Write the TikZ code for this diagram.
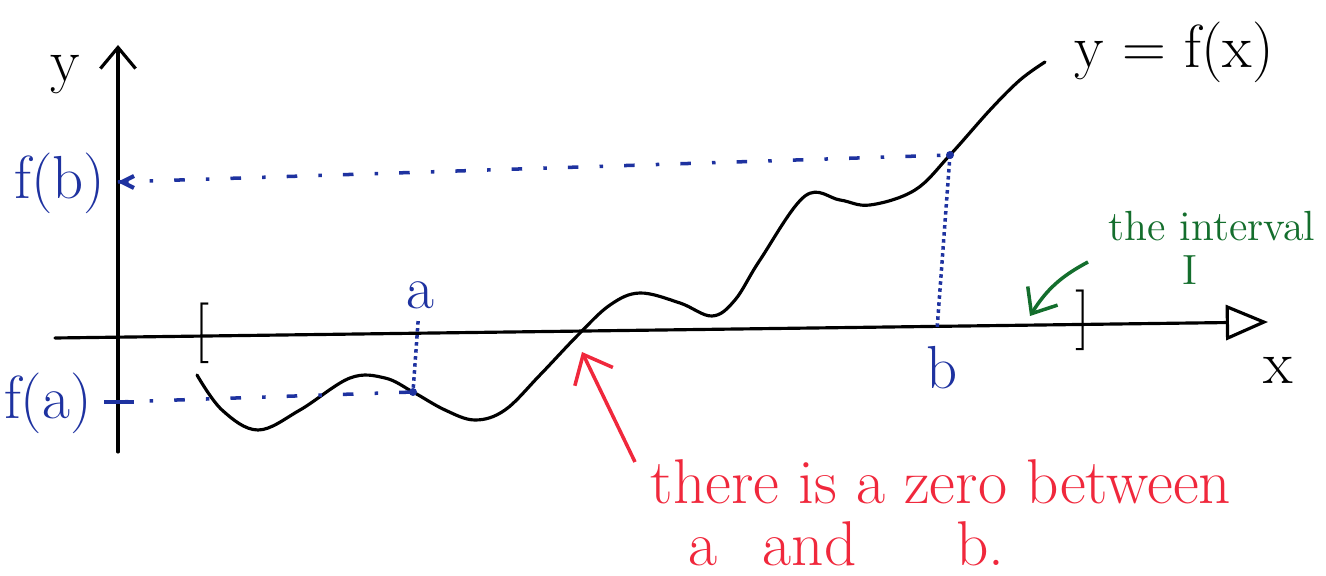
\documentclass[tikz,border=0pt]{standalone}
\usepackage{xcolor}
\usepackage{tikz}
\usetikzlibrary{arrows.meta}
\definecolor{penblue}{RGB}{30,50,160}
\definecolor{penred}{RGB}{240,40,60}
\definecolor{pengreen}{RGB}{20,110,45}

\begin{document}
\begin{tikzpicture}[x=0.01cm,y=-0.01cm,
    pen/.style={line width=0.9pt,line cap=round},
    guide/.style={penblue,line width=1pt,dash pattern=on 3pt off 6pt on 1pt off 6pt},
    drop/.style={penblue,line width=1pt,densely dotted},
    bluetext/.style={penblue,font=\LARGE},
    redtext/.style={penred,font=\fontsize{18}{22}\selectfont,anchor=west,inner sep=0pt},
    greentext/.style={pengreen,font=\large}
]

\useasboundingbox (0,0) rectangle (1326,576);

\coordinate (xs) at (55,338);
\coordinate (xe) at (1268,322);
\coordinate (ys) at (118,452);
\coordinate (ye) at (118,45);
\coordinate (fa) at (413,392);
\coordinate (fb) at (950,155);
\coordinate (fbtick) at (118,182);
\coordinate (fatick) at (118,402);
\coordinate (bfoot) at (937,330);

\draw[pen,-{Triangle[open,length=12pt,width=10pt]}] (xs) -- (xe);
\draw[pen,-{Straight Barb[length=6pt,width=10pt]}] (ys) -- (ye);

\node[font=\LARGE] (ylabel) at (65,75) {y};
\node[font=\LARGE] (xlabel) at (1278,370) {x};
\node[font=\LARGE] (lbrack) at (202,333) {[};
\node[font=\LARGE] (rbrack) at (1083,320) {]};

\draw[pen] plot[smooth,tension=0.6] coordinates {
  (197,375) (222,410) (258,430) (300,410) (350,378) (385,378) (fa)
  (445,410) (475,420) (505,410) (540,375) (578,335) (610,305) (640,293)
  (680,303) (712,316) (735,300) (760,260) (805,196) (840,200) (870,205)
  (915,190) (fb) (990,110) (1020,80) (1045,62)};
\node[font=\LARGE,anchor=west] (curvelabel) at (1062,52) {y = f(x)};

\draw[guide] (fbtick) -- (fb);
\draw[guide] (fatick) -- (fa);
\draw[drop] (fb) -- (bfoot);
\node[bluetext] (alabel) at (420,295) {a};
\node[bluetext] (blabel) at (942,368) {b};
\draw[drop] (alabel) -- (fa);
\fill[penblue] (fa) circle (4);
\fill[penblue] (fb) circle (4);

\draw[penblue,line width=1.2pt] (104,402) -- (134,402);
\draw[penblue,line width=1.2pt] (134,176) -- (122,182) -- (134,188);
\node[bluetext] (fblabel) at (60,183) {f(b)};
\node[bluetext] (falabel) at (48,403) {f(a)};

\node[greentext] (intlabel) at (1212,226) {the interval};
\node[greentext] (intname) at (1190,270) {I};
\coordinate (inttip) at (1030,316);
\draw[pengreen,line width=1pt,-{Straight Barb[length=6pt,width=10pt]}] (1088,262) to[bend right=15] (inttip);

\node[redtext] (zero1) at (650,482) {there is a zero between};
\node[redtext] (zero2) at (688,544) {a\hspace{0.45cm}and\hspace{1cm}b.};
\coordinate (zerotip) at (582,352);
\draw[penred,line width=1pt,-{Straight Barb[length=7pt,width=12pt]}] (635,462) -- (zerotip);

\end{tikzpicture}
\end{document}
